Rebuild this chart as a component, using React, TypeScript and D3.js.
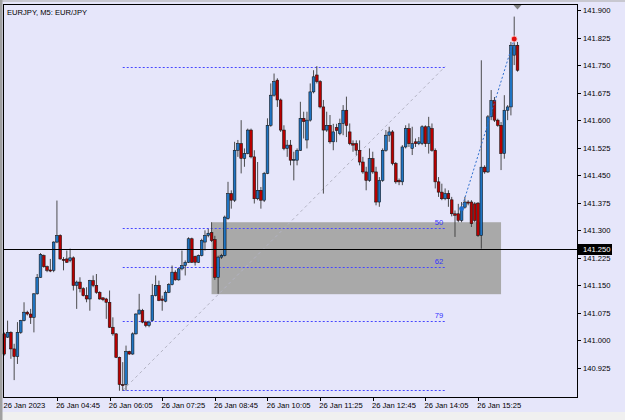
import React from "react";
import * as d3 from "d3";

const opens = [141.018,141.009,141.022,140.977,140.956,141.022,141.054,141.077,141.072,141.063,141.127,141.172,141.231,141.201,141.192,141.191,141.268,141.286,141.221,141.222,141.218,141.225,141.150,141.159,141.141,141.122,141.113,141.163,141.150,141.131,141.116,141.113,141.104,141.036,141.018,140.954,140.880,140.880,140.970,140.963,141.018,141.072,141.081,141.050,141.041,141.054,141.122,141.150,141.113,141.107,141.131,141.152,141.186,141.165,141.195,141.204,141.213,141.277,141.229,141.213,141.231,141.268,141.286,141.294,141.275,141.172,141.227,141.231,141.332,141.400,141.382,141.518,141.536,141.496,141.509,141.573,141.500,141.386,141.409,141.382,141.455,141.586,141.668,141.709,141.655,141.573,141.523,141.532,141.491,141.491,141.518,141.605,141.546,141.600,141.677,141.723,141.705,141.636,141.573,141.586,141.541,141.580,141.564,141.591,141.627,141.568,141.536,141.536,141.518,141.486,141.459,141.436,141.495,141.459,141.377,141.436,141.518,141.559,141.568,141.482,141.436,141.432,141.527,141.577,141.523,141.541,141.536,141.536,141.582,141.536,141.577,141.518,141.432,141.404,141.386,141.400,141.383,141.345,141.345,141.327,141.363,141.377,141.377,141.372,141.374,141.286,141.472,141.459,141.609,141.654,141.600,141.586,141.509,141.627,141.636,141.777,141.804];
const highs = [141.022,141.054,141.025,140.991,141.050,141.056,141.104,141.081,141.086,141.129,141.181,141.238,141.234,141.204,141.222,141.270,141.381,141.289,141.227,141.245,141.250,141.229,141.163,141.172,141.145,141.145,141.165,141.177,141.181,141.134,141.118,141.116,141.136,141.063,141.020,140.956,140.941,140.986,140.972,141.022,141.074,141.127,141.086,141.054,141.054,141.154,141.177,141.163,141.122,141.136,141.156,141.204,141.191,141.198,141.245,141.218,141.281,141.280,141.231,141.234,141.277,141.300,141.304,141.322,141.285,141.231,141.236,141.340,141.432,141.409,141.541,141.546,141.600,141.523,141.577,141.577,141.518,141.486,141.418,141.459,141.605,141.700,141.727,141.714,141.659,141.586,141.546,141.546,141.514,141.523,141.650,141.623,141.623,141.700,141.736,141.747,141.709,141.655,141.623,141.614,141.590,141.590,141.604,141.641,141.664,141.591,141.545,141.545,141.545,141.500,141.473,141.523,141.514,141.473,141.445,141.523,141.573,141.582,141.573,141.486,141.441,141.532,141.586,141.591,141.582,141.550,141.554,141.586,141.586,141.609,141.591,141.523,141.445,141.427,141.414,141.409,141.391,141.354,141.372,141.377,141.391,141.382,141.382,141.377,141.377,141.763,141.477,141.614,141.682,141.663,141.604,141.595,141.668,141.641,141.813,141.882,141.813];
const lows = [140.959,141.007,140.950,140.892,140.936,141.018,141.052,141.068,141.045,141.022,141.125,141.171,141.198,141.186,141.186,141.186,141.265,141.220,141.191,141.211,141.213,141.136,141.086,141.131,141.120,141.104,141.081,141.145,141.127,141.111,141.107,141.059,141.034,141.013,140.952,140.863,140.863,140.863,140.961,140.961,141.016,141.071,141.047,141.036,141.036,141.052,141.120,141.107,141.081,141.104,141.129,141.150,141.163,141.163,141.191,141.177,141.211,141.211,141.204,141.211,141.229,141.245,141.281,141.268,141.165,141.127,141.222,141.229,141.329,141.359,141.377,141.500,141.455,141.473,141.507,141.496,141.373,141.382,141.359,141.377,141.453,141.582,141.664,141.636,141.568,141.518,141.500,141.477,141.436,141.477,141.516,141.550,141.523,141.596,141.673,141.700,141.632,141.400,141.568,141.536,141.518,141.540,141.559,141.559,141.554,141.532,141.514,141.504,141.477,141.454,141.409,141.432,141.454,141.368,141.364,141.432,141.514,141.541,141.477,141.427,141.423,141.423,141.523,141.527,141.505,141.527,141.532,141.532,141.527,141.509,141.514,141.414,141.391,141.382,141.382,141.364,141.338,141.282,141.322,141.322,141.359,141.368,141.309,141.322,141.282,141.250,141.454,141.456,141.600,141.595,141.582,141.464,141.495,141.600,141.613,141.750,141.732];
const closes = [140.963,141.022,140.977,140.956,141.022,141.054,141.077,141.072,141.063,141.127,141.172,141.234,141.201,141.191,141.189,141.268,141.286,141.222,141.218,141.213,141.225,141.150,141.159,141.141,141.122,141.113,141.163,141.150,141.131,141.113,141.111,141.104,141.036,141.018,140.954,140.880,140.877,140.970,140.963,141.018,141.072,141.083,141.050,141.041,141.050,141.122,141.150,141.109,141.109,141.131,141.152,141.186,141.165,141.195,141.204,141.213,141.277,141.213,141.213,141.231,141.272,141.286,141.292,141.272,141.172,141.227,141.231,141.336,141.400,141.382,141.518,141.536,141.496,141.509,141.573,141.500,141.386,141.409,141.382,141.455,141.586,141.668,141.705,141.655,141.573,141.523,141.532,141.491,141.493,141.518,141.605,141.596,141.600,141.677,141.718,141.705,141.636,141.573,141.586,141.541,141.568,141.572,141.591,141.627,141.586,141.536,141.532,141.518,141.486,141.459,141.436,141.495,141.459,141.377,141.436,141.518,141.559,141.568,141.482,141.432,141.432,141.527,141.577,141.536,141.536,141.536,141.541,141.582,141.536,141.582,141.518,141.432,141.404,141.386,141.400,141.386,141.345,141.341,141.327,141.363,141.377,141.374,141.318,141.327,141.286,141.472,141.459,141.609,141.654,141.600,141.586,141.509,141.627,141.636,141.804,141.804,141.736];

const xTickBars = [0, 16, 32, 48, 64, 80, 96, 112, 128, 144];
const xTickLabels = ["26 Jan 2023", "26 Jan 04:45", "26 Jan 06:05", "26 Jan 07:25", "26 Jan 08:45", "26 Jan 10:05", "26 Jan 11:25", "26 Jan 12:45", "26 Jan 14:05", "26 Jan 15:25"];
const yTicks = [141.9, 141.825, 141.75, 141.675, 141.6, 141.525, 141.45, 141.375, 141.3, 141.225, 141.15, 141.075, 141.0, 140.925];
const hLinePrice = 141.25;
const fibLevels = [0, 0.5, 0.618, 0.786, 1];
const fibLabels = ["", "50", "62", "79", ""];
const fibBars = [36, 134];
const fibPrices = [140.864, 141.746];
const rectBars = [63, 151];
const rectPrices = [141.126, 141.322];
const tradeBars = [139, 155];
const tradePrices = [141.359, 141.821];
const titleText = "EURJPY, M5:  EUR/JPY";

const W = 625;
const H = 420;
const FONT = "'Liberation Sans', Arial, sans-serif";
const FS = 7.6;

export default function App() {
  const x = d3.scaleLinear().domain([0, 156]).range([4.3, 517.5]);
  const y = d3.scaleLinear().domain([140.925, 141.9]).range([368, 10]);
  const fmt = d3.format(".3f");
  const bull = "#1f74c2";
  const bear = "#b80000";
  const fibHigh = fibPrices[1];
  const fibLow = fibPrices[0];
  const fx1 = x(fibBars[0]);
  const fx2 = x(fibBars[1]);

  return (
    <div style={{ position: "fixed", left: 0, top: 0, width: W, height: H }}>
      <svg width={W} height={H} style={{ display: "block" }}>
        <rect x={0} y={0} width={W} height={H} fill="#e6e6fa" />
        <rect x={0} y={412} width={W} height={8} fill="#f0f0f0" />
        <rect x={0} y={0} width={W} height={2} fill="#c8c8d0" />
        <rect x={0} y={0} width={2.5} height={H} fill="#a0a0a0" />

        {/* rectangle object */}
        <rect
          x={x(rectBars[0])}
          y={y(rectPrices[1])}
          width={x(rectBars[1]) - x(rectBars[0])}
          height={y(rectPrices[0]) - y(rectPrices[1])}
          fill="#a9a9a9"
        />

        {/* fib diagonal */}
        <line x1={fx1} y1={y(fibLow)} x2={fx2} y2={y(fibHigh)} stroke="#b4b4c4" strokeWidth={1} strokeDasharray="3,3" />

        {/* fib levels */}
        {fibLevels.map((lv, i) => {
          const p = fibHigh - lv * (fibHigh - fibLow);
          const yy = Math.round(y(p)) + 0.5;
          return (
            <g key={"fib" + i}>
              <line x1={fx1} x2={fx2} y1={yy} y2={yy} stroke="#4646ff" strokeWidth={1} strokeDasharray="2,2" />
              {fibLabels[i] && (
                <text x={fx2 - 2} y={yy - 4} textAnchor="end" fontFamily={FONT} fontSize={FS} fill="#3232ff">
                  {fibLabels[i]}
                </text>
              )}
            </g>
          );
        })}

        {/* candles */}
        {opens.map((o, i) => {
          const c = closes[i];
          const cx = x(i);
          const up = c >= o;
          const top = y(Math.max(o, c));
          const bot = y(Math.min(o, c));
          return (
            <g key={"c" + i}>
              <line x1={cx} x2={cx} y1={y(highs[i])} y2={y(lows[i])} stroke="#3a3a3a" strokeWidth={0.9} />
              <rect
                x={cx - 1.35}
                y={top}
                width={2.7}
                height={Math.max(bot - top, 0.9)}
                fill={up ? bull : bear}
                stroke="#101010"
                strokeWidth={0.55}
              />
            </g>
          );
        })}

        {/* horizontal line */}
        <line x1={3} x2={577} y1={Math.round(y(hLinePrice)) + 0.5} y2={Math.round(y(hLinePrice)) + 0.5} stroke="#000" strokeWidth={1} />

        {/* trade line */}
        <line
          x1={x(tradeBars[0])}
          y1={y(tradePrices[0])}
          x2={x(tradeBars[1])}
          y2={y(tradePrices[1])}
          stroke="#2f6fd0"
          strokeWidth={1}
          strokeDasharray="2,2"
        />
        <circle cx={x(tradeBars[0])} cy={y(tradePrices[0])} r={2.4} fill="#1f6fd0" />
        <circle cx={x(tradeBars[1])} cy={y(tradePrices[1])} r={3} fill="#e01010" stroke="#ffdede" strokeWidth={0.8} />

        {/* frame */}
        <rect x={3.5} y={4.5} width={574} height={393} fill="none" stroke="#000" strokeWidth={1} />
        <path d={`M${x(156) - 4},5 L${x(156) + 4},5 L${x(156)},9.5 Z`} fill="#808080" />

        {/* title */}
        <text x={7} y={15} fontFamily={FONT} fontSize={FS} fill="#000">{titleText}</text>

        {/* y axis */}
        {yTicks.map((t, i) => {
          const yy = Math.round(y(t)) + 0.5;
          return (
            <g key={"yt" + i}>
              <line x1={577.5} x2={581} y1={yy} y2={yy} stroke="#000" strokeWidth={1} />
              <text x={583} y={yy + 2.7} fontFamily={FONT} fontSize={FS} fill="#000">{fmt(t)}</text>
            </g>
          );
        })}
        <rect x={578} y={Math.round(y(hLinePrice)) - 5} width={34} height={11} fill="#000" />
        <text x={583} y={Math.round(y(hLinePrice)) + 3.2} fontFamily={FONT} fontSize={FS} fill="#fff">{fmt(hLinePrice)}</text>

        {/* x axis */}
        {xTickBars.map((b, i) => {
          const xx = Math.round(x(b)) + 0.5;
          return (
            <g key={"xt" + i}>
              {i > 0 && <line x1={xx} x2={xx} y1={397.5} y2={401} stroke="#000" strokeWidth={1} />}
              <text x={x(b) - 0.8} y={407.8} fontFamily={FONT} fontSize={FS} fill="#000">{xTickLabels[i]}</text>
            </g>
          );
        })}
      </svg>
    </div>
  );
}
